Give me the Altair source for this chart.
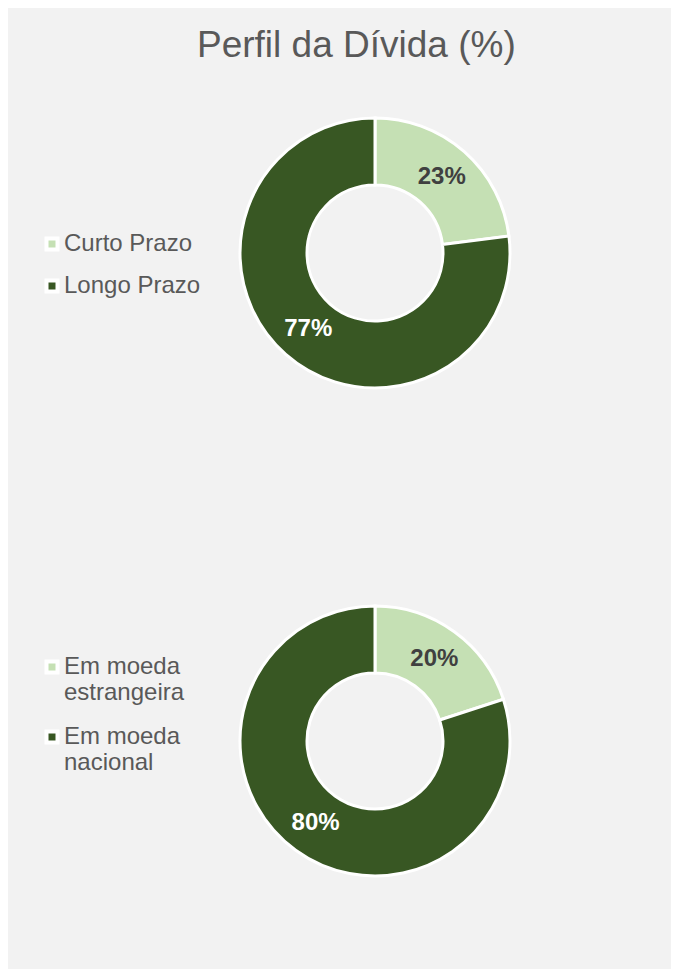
import altair as alt
import pandas as pd

# ---- data ----
cats_prazo = ["Curto Prazo", "Longo Prazo"]
vals_prazo = [23, 77]
cats_moeda = ["Em moeda estrangeira", "Em moeda nacional"]
vals_moeda = [20, 80]
title_text = "Perfil da Dívida (%)"

colors = ["#c5e0b4", "#385723"]
FONT = "Liberation Sans"


def frame(cats, vals):
    return pd.DataFrame({
        "cat": cats,
        "value": vals,
        "idx": list(range(len(cats))),
        "label": [f"{v}%" for v in vals],
    })


def donut(df, cx, cy, legend):
    base = alt.Chart(df).encode(
        theta=alt.Theta("value:Q", stack=True),
        order=alt.Order("idx:Q"),
        x=alt.value(cx),
        y=alt.value(cy),
    )
    arc = base.mark_arc(outerRadius=135, innerRadius=68, stroke="white", strokeWidth=3).encode(
        color=alt.Color("cat:N", scale=alt.Scale(domain=list(df["cat"]), range=colors), legend=legend)
    )
    text = base.mark_text(radius=101, fontSize=24, fontWeight="bold", font=FONT).encode(
        text="label:N",
        color=alt.condition(alt.datum.idx == 0, alt.value("#404040"), alt.value("#ffffff")),
    )
    return arc, text


common = dict(
    orient="none", title=None, padding=0,
    labelFont=FONT, labelFontSize=24, labelColor="#595959", labelLimit=400,
    symbolType="square", symbolSize=121, symbolStrokeColor="white", symbolStrokeWidth=4,
    labelOffset=0, legendX=32,
)

leg1 = alt.Legend(legendY=174, rowPadding=14, **common)
leg2 = alt.Legend(
    legendY=597, rowPadding=18,
    labelExpr="[join(slice(split(datum.label, ' '), 0, 2), ' '), join(slice(split(datum.label, ' '), 2), ' ')]",
    **common,
)

arc1, text1 = donut(frame(cats_prazo, vals_prazo), 367, 195, leg1)
arc2, text2 = donut(frame(cats_moeda, vals_moeda), 367, 683, leg2)

chart = (
    alt.layer(arc1, text1, arc2, text2)
    .resolve_scale(color="independent")
    .properties(
        width=663,
        height=911,
        padding={"left": 0, "top": 50, "right": 0, "bottom": 0},
        autosize=alt.AutoSizeParams(type="none"),
        background="#f2f2f2",
        title=alt.Title(title_text, fontSize=37, font=FONT, fontWeight="normal", color="#595959",
                        anchor="start", baseline="alphabetic", offset=0, dx=189, dy=36),
    )
    .configure_view(stroke=None)
)

chart.save("out.html", embed_options={"renderer": "svg", "actions": False})
